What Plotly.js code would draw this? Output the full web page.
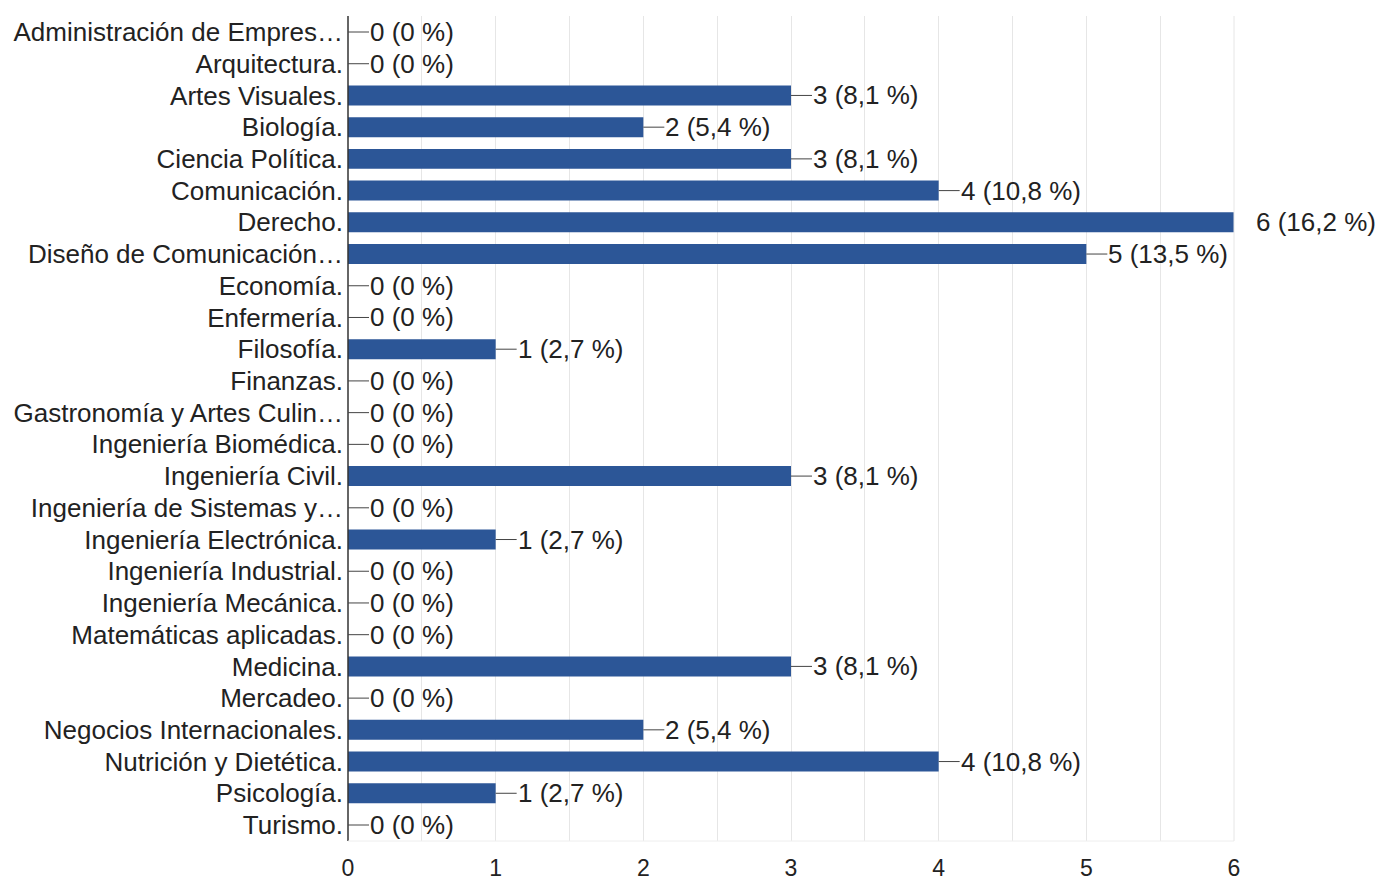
<!DOCTYPE html>
<html>
<head>
<meta charset="utf-8">
<script src="https://cdn.plot.ly/plotly-3.0.1.min.js"></script>
<style>html,body{margin:0;padding:0;background:#fff;}#chart{width:1377px;height:880px;}</style>
</head>
<body>
<div id="chart"></div>
<script>
const categories = [
  "Administración de Empres…", "Arquitectura.", "Artes Visuales.", "Biología.",
  "Ciencia Política.", "Comunicación.", "Derecho.", "Diseño de Comunicación…",
  "Economía.", "Enfermería.", "Filosofía.", "Finanzas.",
  "Gastronomía y Artes Culin…", "Ingeniería Biomédica.", "Ingeniería Civil.",
  "Ingeniería de Sistemas y…", "Ingeniería Electrónica.", "Ingeniería Industrial.",
  "Ingeniería Mecánica.", "Matemáticas aplicadas.", "Medicina.", "Mercadeo.",
  "Negocios Internacionales.", "Nutrición y Dietética.", "Psicología.", "Turismo."
];
const counts = [0,0,3,2,3,4,6,5,0,0,1,0,0,0,3,0,1,0,0,0,3,0,2,4,1,0];
const percents = ["0","0","8,1","5,4","8,1","10,8","16,2","13,5","0","0","2,7","0","0","0","8,1","0","2,7","0","0","0","8,1","0","5,4","10,8","2,7","0"];
const xTicks = [0,1,2,3,4,5,6];

const FONT = 'Liberation Sans, Arial, Helvetica, sans-serif';
const maxVal = Math.max(...counts);
const annotations = categories.map((c, i) => {
  const txt = counts[i] + " (" + percents[i] + " %)";
  if (counts[i] === maxVal) {
    return {x: counts[i], y: c, xref: 'x', yref: 'y', text: txt, showarrow: false,
            xanchor: 'left', xshift: 20, font: {family: FONT, size: 26, color: '#222'}};
  }
  return {x: counts[i], y: c, xref: 'x', yref: 'y', text: txt, showarrow: true,
          arrowhead: 0, arrowwidth: 1, arrowcolor: '#444', ax: 21, ay: 0, standoff: 0,
          xanchor: 'left', borderpad: 0,
          font: {family: FONT, size: 26, color: '#222'}};
});

const trace = {
  type: 'bar', orientation: 'h', y: categories, x: counts,
  marker: {color: '#2c5697'}, hoverinfo: 'none'
};

const layout = {
  width: 1377, height: 880,
  margin: {l: 348, r: 143, t: 16, b: 39},
  paper_bgcolor: '#fff', plot_bgcolor: '#fff',
  bargap: 0.37,
  showlegend: false,
  font: {family: FONT, size: 22, color: '#222'},
  xaxis: {
    range: [0, 6], tickvals: xTicks, ticktext: xTicks.map(String),
    showgrid: false, zeroline: false, showline: false, ticks: '',
    tickfont: {size: 23, color: '#222'}, ticklabelstandoff: 11,
    minor: {dtick: 0.5, showgrid: true, gridcolor: '#e6e6e6', gridwidth: 1}
  },
  yaxis: {
    type: 'category', autorange: 'reversed', showgrid: false, zeroline: false,
    showline: false, ticks: '', tickfont: {size: 26, color: '#222'}, ticklabelstandoff: 4
  },
  shapes: [
    {type: 'line', xref: 'paper', yref: 'paper', x0: 0, x1: 0, y0: 0, y1: 1, line: {color: '#333', width: 1.5}},
    {type: 'line', xref: 'paper', yref: 'paper', x0: 0, x1: 1, y0: 0, y1: 0, line: {color: '#eeeeee', width: 1}},
    {type: 'line', xref: 'paper', yref: 'paper', x0: 1, x1: 1, y0: 0, y1: 1, line: {color: '#e6e6e6', width: 1}}
  ],
  annotations: annotations
};

Plotly.newPlot('chart', [trace], layout, {staticPlot: true, displayModeBar: false});
</script>
</body>
</html>
